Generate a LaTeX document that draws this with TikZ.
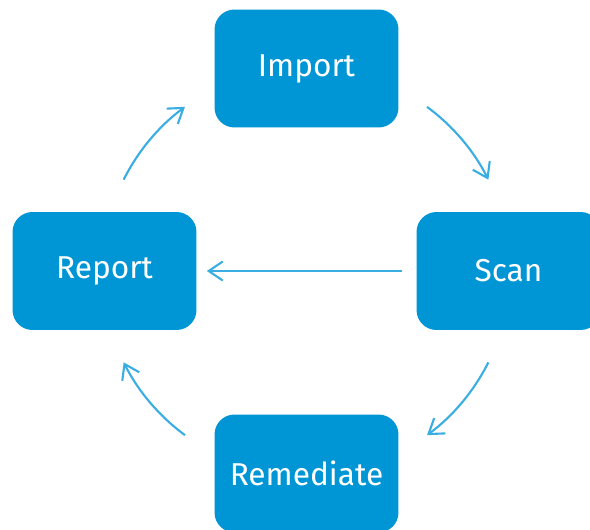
\documentclass[tikz,border=0pt]{standalone}
\usepackage{fontspec}
\setmainfont{Fira Sans}
\usepackage{tikz}
\usetikzlibrary{arrows.meta, positioning, calc}
\definecolor{stepblue}{HTML}{0096D6}
\definecolor{flowblue}{HTML}{3AAEE2}

\begin{document}
\begin{tikzpicture}[
    x=0.02cm, y=0.02cm,
    stage/.style={rectangle, fill=stepblue, text=white, minimum width=3.68cm, minimum height=2.36cm, rounded corners=0.4cm, font=\fontsize{18}{20}\selectfont},
    arrow/.style={-{Straight Barb[length=2.8mm, width=3.8mm]}, line width=1.2pt, draw=flowblue}
]
\useasboundingbox[fill=white] (0,0) rectangle (590,529);
% Stages of the cycle
\node[stage] (import) at (306.5, 460.5) {Import};
\node[stage] (scan) at (508.5, 258) {Scan};
\node[stage] (report) at (104.5, 258) {Report};
\node[stage] (remediate) at (306.5, 55.5) {Remediate};
% Arc ends round the centre
\coordinate (centre) at (306, 258);
\coordinate (a1) at ($(centre)+(53.6:4.08cm)$);
\coordinate (a2) at ($(centre)+(-26.6:4.08cm)$);
\coordinate (a3) at ($(centre)+(233.6:4.08cm)$);
\coordinate (a4) at ($(centre)+(153.4:4.08cm)$);
% Curved arrows
\draw[arrow] (a1) arc[start angle=53.6, end angle=26.6, radius=4.08cm];
\draw[arrow] (a2) arc[start angle=-26.6, end angle=-53.6, radius=4.08cm];
\draw[arrow] (a3) arc[start angle=233.6, end angle=206.6, radius=4.08cm];
\draw[arrow] (a4) arc[start angle=153.4, end angle=126.4, radius=4.08cm];
% Straight arrow
\draw[arrow, shorten <=0.28cm, shorten >=0.2cm] (scan.west) -- (report.east);
\end{tikzpicture}
\end{document}
